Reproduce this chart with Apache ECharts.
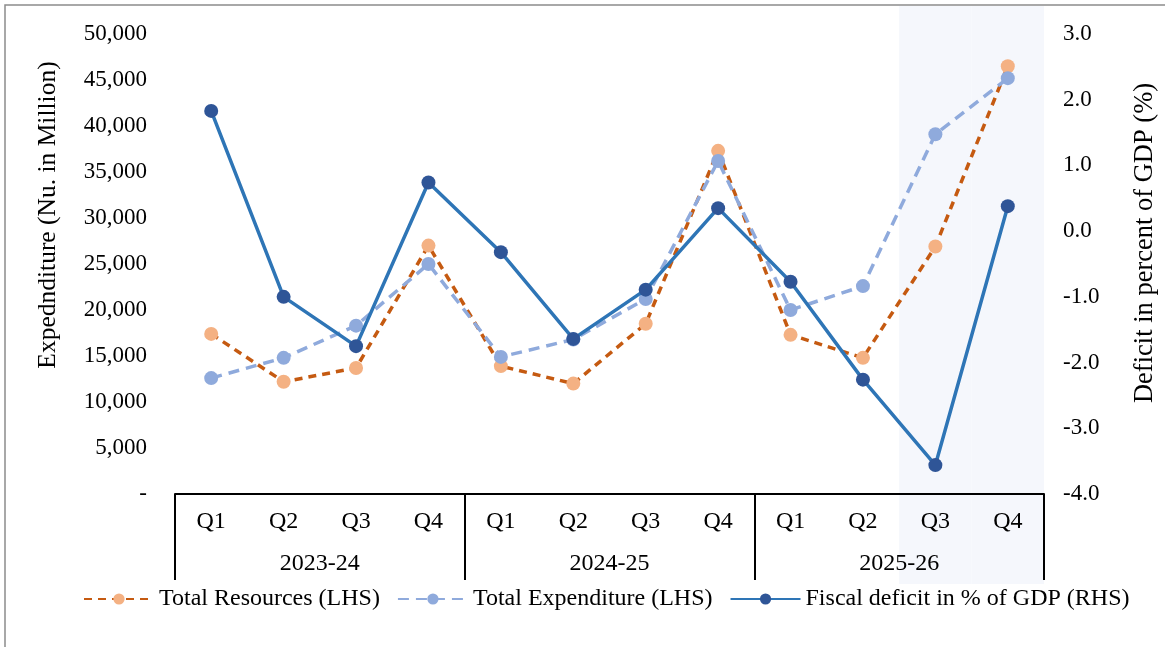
<!DOCTYPE html>
<html>
<head>
<meta charset="utf-8">
<script src="https://cdn.jsdelivr.net/npm/echarts@6/dist/echarts.min.js"></script>
<style>
  html, body { margin: 0; padding: 0; background: #fff; }
  #chart { width: 1165px; height: 647px; }
</style>
</head>
<body>
<div id="chart"></div>
<script>
// Quarterly fiscal data, 2023-24 to 2025-26
const quarters = ['Q1', 'Q2', 'Q3', 'Q4', 'Q1', 'Q2', 'Q3', 'Q4', 'Q1', 'Q2', 'Q3', 'Q4'];
const fiscalYears = ['2023-24', '2024-25', '2025-26'];
const totalResources = [17400, 12200, 13700, 27000, 13900, 12000, 18500, 37300, 17300, 14800, 26900, 46500];
const totalExpenditure = [12600, 14800, 18300, 25000, 14900, 16800, 21200, 36200, 20000, 22600, 39100, 45200];
const fiscalDeficit = [1.83, -1.0, -1.75, 0.74, -0.32, -1.64, -0.89, 0.35, -0.77, -2.26, -3.56, 0.38];
// Quarters shaded as projections (last two of 2025-26)
const projected = [null, null, null, null, null, null, null, null, null, null, 1, 1];

const FONT = 'Liberation Serif';
const chart = echarts.init(document.getElementById('chart'), null, { renderer: 'canvas' });

const option = {
  backgroundColor: '#ffffff',
  animation: false,
  textStyle: { fontFamily: FONT, color: '#000' },
  grid: [
    { left: 175, right: 121, top: 34, bottom: 153 },
    { left: 175, right: 121, top: 6, bottom: 63 }
  ],
  xAxis: [
    {
      type: 'category', gridIndex: 0, data: quarters, position: 'bottom', z: 5,
      axisLine: { onZero: false, lineStyle: { color: '#000', width: 2 } },
      axisTick: { show: false },
      axisLabel: { fontFamily: FONT, fontSize: 24, color: '#000', margin: 16, interval: 0 }
    },
    {
      type: 'category', gridIndex: 0, data: fiscalYears, position: 'bottom', z: 5,
      axisLine: { show: false, onZero: false },
      axisTick: { show: true, length: 86, lineStyle: { color: '#000', width: 2 } },
      axisLabel: { fontFamily: FONT, fontSize: 24, color: '#000', margin: 58, interval: 0 }
    },
    {
      type: 'category', gridIndex: 1, data: quarters, show: false
    }
  ],
  yAxis: [
    {
      type: 'value', gridIndex: 0, min: 0, max: 50000, interval: 5000,
      splitLine: { show: false }, axisLine: { show: false }, axisTick: { show: false },
      axisLabel: {
        fontFamily: FONT, fontSize: 23, color: '#000', margin: 28,
        formatter: v => v === 0 ? '-' : v.toLocaleString('en-US')
      }
    },
    {
      type: 'value', gridIndex: 0, min: -4, max: 3, interval: 1, position: 'right',
      splitLine: { show: false }, axisLine: { show: false }, axisTick: { show: false },
      axisLabel: {
        fontFamily: FONT, fontSize: 23, color: '#000', margin: 19,
        formatter: v => v.toFixed(1)
      }
    },
    { type: 'value', gridIndex: 1, min: 0, max: 1, show: false }
  ],
  legend: {
    top: 582, left: 78, itemWidth: 70, itemHeight: 14, itemGap: 17,
    textStyle: { fontFamily: FONT, fontSize: 24, color: '#000' },
    data: ['Total Resources (LHS)', 'Total Expenditure (LHS)', 'Fiscal deficit in % of GDP (RHS)']
  },
  graphic: [
    {
      type: 'rect', z: -10, silent: true,
      shape: { x: 5, y: 5, width: 1200, height: 700 },
      style: { fill: null, stroke: '#8c8c8c', lineWidth: 1.5 }
    },
    {
      type: 'text', x: 48, y: 215, rotation: Math.PI / 2, silent: true,
      style: {
        text: 'Expednditure (Nu. in Million)', fontFamily: FONT, fontSize: 25.5, fill: '#000',
        textAlign: 'center', textVerticalAlign: 'middle'
      }
    },
    {
      type: 'text', x: 1145, y: 243, rotation: Math.PI / 2, silent: true,
      style: {
        text: 'Deficit in percent of GDP (%)', fontFamily: FONT, fontSize: 26.5, fill: '#000',
        textAlign: 'center', textVerticalAlign: 'middle'
      }
    }
  ],
  series: [
    {
      name: 'projection', type: 'bar', xAxisIndex: 2, yAxisIndex: 2,
      data: projected, barWidth: '100%', barCategoryGap: 0, silent: true, z: 0,
      itemStyle: { color: '#F5F7FC' }
    },
    {
      name: 'Total Resources (LHS)', type: 'line', xAxisIndex: 0, yAxisIndex: 0, z: 3,
      data: totalResources, symbol: 'circle', symbolSize: 14,
      lineStyle: { color: '#C55A11', width: 3.5, type: [8, 6] },
      itemStyle: { color: '#F4B183' }
    },
    {
      name: 'Total Expenditure (LHS)', type: 'line', xAxisIndex: 0, yAxisIndex: 0, z: 4,
      data: totalExpenditure, symbol: 'circle', symbolSize: 14,
      lineStyle: { color: '#8FAADC', width: 3.5, type: [11, 7] },
      itemStyle: { color: '#8FAADC' }
    },
    {
      name: 'Fiscal deficit in % of GDP (RHS)', type: 'line', xAxisIndex: 0, yAxisIndex: 1, z: 5,
      data: fiscalDeficit, symbol: 'circle', symbolSize: 14,
      lineStyle: { color: '#2E75B6', width: 3.5 },
      itemStyle: { color: '#2F5597' }
    }
  ]
};

chart.setOption(option);
</script>
</body>
</html>
